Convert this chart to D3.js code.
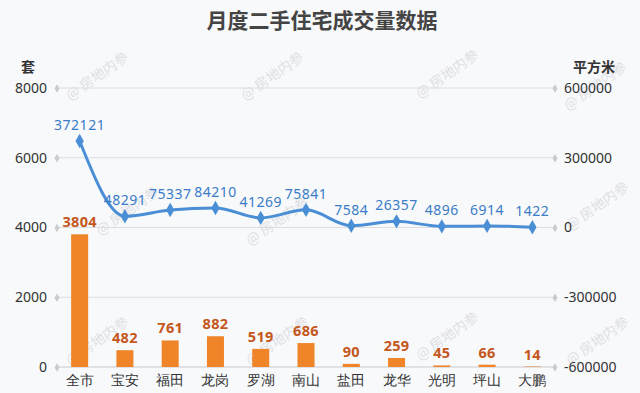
<!DOCTYPE html>
<html>
<head>
<meta charset="utf-8">
<script src="https://cdn.jsdelivr.net/npm/d3@7"></script>
<style>
  body { margin: 0; background: #f8f9fb; }
  svg { display: block; font-family: "Noto Sans CJK SC", "Noto Sans", sans-serif; }
</style>
</head>
<body>
<div id="chart"></div>
<script>
// data
const districts = ["全市", "宝安", "福田", "龙岗", "罗湖", "南山", "盐田", "龙华", "光明", "坪山", "大鹏"];
const units = [3804, 482, 761, 882, 519, 686, 90, 259, 45, 66, 14];          // 套
const area = [372121, 48291, 75337, 84210, 41269, 75841, 7584, 26357, 4896, 6914, 1422]; // 平方米
const leftTicks = [0, 2000, 4000, 6000, 8000];
const rightTicks = [-600000, -300000, 0, 300000, 600000];

const width = 640, height = 393;
const margin = {left: 57, right: 85, top: 88, bottom: 26};

const svg = d3.select("#chart").append("svg")
  .attr("width", width)
  .attr("height", height);

svg.append("rect").attr("width", width).attr("height", height).attr("fill", "#f8f9fb");

const x = d3.scaleBand()
  .domain(districts)
  .range([margin.left, width - margin.right]);

const yL = d3.scaleLinear().domain([0, 8000]).range([height - margin.bottom, margin.top]);
const yR = d3.scaleLinear().domain([-600000, 600000]).range([height - margin.bottom, margin.top]);

// title
svg.append("text")
  .attr("x", 322).attr("y", 28)
  .attr("text-anchor", "middle")
  .attr("font-size", 21).attr("font-weight", "bold")
  .attr("fill", "#444")
  .text("月度二手住宅成交量数据");

// watermarks
const marks = [[100, 80], [275, 80], [450, 78], [598, 90], [130, 215], [280, 225], [600, 210], [100, 345], [280, 345], [450, 340], [600, 345]];
marks.forEach(function(m) {
  svg.append("text")
    .attr("transform", `translate(${m[0]},${m[1]}) rotate(-35)`)
    .attr("text-anchor", "middle")
    .attr("font-size", 14)
    .attr("fill", "#d9dbdf")
    .attr("opacity", 0.8)
    .text("@ 房地内参");
});

// gridlines
svg.append("g")
  .selectAll("line")
  .data(leftTicks)
  .join("line")
    .attr("x1", margin.left).attr("x2", width - margin.right)
    .attr("y1", d => yL(d)).attr("y2", d => yL(d))
    .attr("stroke", d => d === 0 ? "#c8cacf" : "#dcdde1")
    .attr("stroke-width", 1);

// left axis
const left = svg.append("g")
  .attr("transform", `translate(${margin.left},0)`)
  .call(d3.axisLeft(yL).tickValues(leftTicks).tickFormat(d => String(d)).tickSize(0).tickPadding(10));
left.select(".domain").remove();
left.selectAll("text").attr("font-size", 14).attr("fill", "#333")
  .attr("font-family", "Noto Sans, sans-serif");
left.selectAll(".tick").append("path")
  .attr("d", d3.symbol(d3.symbolDiamond, 22))
  .attr("fill", "#c9cbcf");

// right axis
const right = svg.append("g")
  .attr("transform", `translate(${width - margin.right},0)`)
  .call(d3.axisRight(yR).tickValues(rightTicks).tickFormat(d => String(d)).tickSize(0).tickPadding(9));
right.select(".domain").remove();
right.selectAll("text").attr("font-size", 14).attr("fill", "#333")
  .attr("font-family", "Noto Sans, sans-serif");
right.selectAll(".tick").append("path")
  .attr("d", d3.symbol(d3.symbolDiamond, 22))
  .attr("fill", "#c9cbcf");

// axis unit names
svg.append("text").attr("x", 28).attr("y", 72).attr("text-anchor", "middle")
  .attr("font-size", 14).attr("font-weight", "bold").attr("fill", "#333").text("套");
svg.append("text").attr("x", 594).attr("y", 72).attr("text-anchor", "middle")
  .attr("font-size", 14).attr("font-weight", "bold").attr("fill", "#333").text("平方米");

// bottom axis
const bottom = svg.append("g")
  .attr("transform", `translate(0,${height - margin.bottom})`)
  .call(d3.axisBottom(x).tickSize(0).tickPadding(8));
bottom.select(".domain").remove();
bottom.selectAll("text").attr("font-size", 14).attr("fill", "#333");

// bars
const barW = 17;
svg.selectAll(".bar")
  .data(units)
  .join("rect")
    .attr("class", "bar")
    .attr("x", (d, i) => x(districts[i]) + x.bandwidth() / 2 - barW / 2)
    .attr("y", d => yL(d))
    .attr("width", barW)
    .attr("height", d => yL(0) - yL(d))
    .attr("fill", "#ef8429");

svg.selectAll(".barlabel")
  .data(units)
  .join("text")
    .attr("class", "barlabel")
    .attr("x", (d, i) => x(districts[i]) + x.bandwidth() / 2)
    .attr("y", d => yL(d) - 7)
    .attr("text-anchor", "middle")
    .attr("font-size", 14.5).attr("font-weight", "bold")
    .attr("font-family", "Noto Sans, sans-serif")
    .attr("letter-spacing", 0.3)
    .attr("fill", "#c4571c")
    .text(d => d);

// line
const line = d3.line()
  .x((d, i) => x(districts[i]) + x.bandwidth() / 2)
  .y(d => yR(d))
  .curve(d3.curveMonotoneX);

svg.append("path")
  .datum(area)
  .attr("d", line)
  .attr("fill", "none")
  .attr("stroke", "#4a8fd6")
  .attr("stroke-width", 3);

svg.selectAll(".pt")
  .data(area)
  .join("path")
    .attr("class", "pt")
    .attr("transform", (d, i) => `translate(${x(districts[i]) + x.bandwidth() / 2},${yR(d)})`)
    .attr("d", d3.symbol(d3.symbolDiamond, 60))
    .attr("fill", "#4a8fd6");

svg.selectAll(".ptlabel")
  .data(area)
  .join("text")
    .attr("class", "ptlabel")
    .attr("x", (d, i) => x(districts[i]) + x.bandwidth() / 2)
    .attr("y", d => yR(d) - 11)
    .attr("text-anchor", "middle")
    .attr("font-size", 14)
    .attr("font-family", "Noto Sans, sans-serif")
    .attr("letter-spacing", 0.5)
    .attr("fill", "#3a7cc8")
    .text(d => d);
</script>
</body>
</html>
